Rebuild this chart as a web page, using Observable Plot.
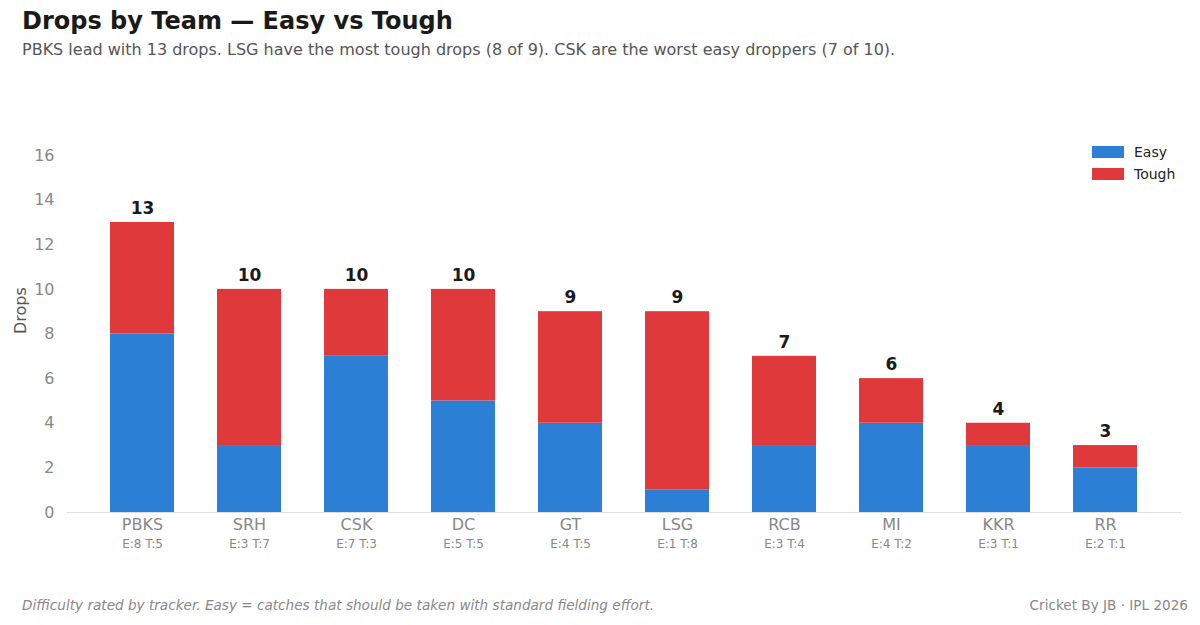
<!DOCTYPE html>
<html><head><meta charset="utf-8">
<script src="https://cdn.jsdelivr.net/npm/d3@7"></script>
<script src="https://cdn.jsdelivr.net/npm/@observablehq/plot@0.6"></script>
<style>
body{margin:0;width:1200px;height:625px;background:#fff;font-family:"DejaVu Sans",sans-serif;position:relative;overflow:hidden}
#t{position:absolute;left:22px;top:7px;font-size:24px;font-weight:bold;color:#1a1a1a}
#s{position:absolute;left:22px;top:40px;font-size:16px;color:#555}
#c{position:absolute;left:0;top:80px}
#f1{position:absolute;left:22px;top:597px;font-size:13.6px;font-style:italic;color:#888}
#f2{position:absolute;right:12px;top:597px;font-size:13.6px;color:#888}
#lg{position:absolute;left:1092px;top:141px;font-size:14px;color:#222;line-height:22px}
#lg span{display:inline-block;width:32px;height:12px;margin-right:10px;vertical-align:-1px}
</style></head><body>
<div id="t">Drops by Team — Easy vs Tough</div>
<div id="s">PBKS lead with 13 drops. LSG have the most tough drops (8 of 9). CSK are the worst easy droppers (7 of 10).</div>
<div id="c"></div>
<div id="lg"><div><span style="background:#2b7fd4"></span>Easy</div><div><span style="background:#e0393b"></span>Tough</div></div>
<div id="f1">Difficulty rated by tracker. Easy = catches that should be taken with standard fielding effort.</div>
<div id="f2">Cricket By JB · IPL 2026</div>
<script>
const teams=["PBKS","SRH","CSK","DC","GT","LSG","RCB","MI","KKR","RR"];
const easy=[8,3,7,5,4,1,3,4,3,2];
const tough=[5,7,3,5,5,8,4,2,1,1];
const yTicks=[0,2,4,6,8,10,12,14,16];
const rows=[];
teams.forEach((t,i)=>{rows.push({team:t,type:"Easy",v:easy[i]});rows.push({team:t,type:"Tough",v:tough[i]});});
const totals=teams.map((t,i)=>({team:t,total:easy[i]+tough[i],sub:`E:${easy[i]} T:${tough[i]}`}));
const p=Plot.plot({
 width:1200,height:480,marginTop:75,marginBottom:48,marginLeft:67,marginRight:19,
 style:{fontFamily:"DejaVu Sans",background:"transparent"},
 x:{domain:teams,padding:0.4,label:null},
 y:{domain:[0,16],ticks:yTicks,label:null},
 color:{domain:["Easy","Tough"],range:["#2b7fd4","#e0393b"]},
 marks:[
  Plot.ruleY([0],{stroke:"#ddd"}),
  Plot.barY(rows,Plot.stackY({x:"team",y:"v",fill:"type",order:["Easy","Tough"]})),
  Plot.axisY({ticks:yTicks,tickSize:0,tickPadding:13,fontSize:16,color:"#888"}),
  Plot.axisX({tickSize:0,tickPadding:6,fontSize:16,color:"#888"}),
  Plot.text(totals,{x:"team",y:0,text:"sub",dy:32,fontSize:12,fill:"#888"}),
  Plot.text(totals,{x:"team",y:"total",text:d=>String(d.total),dy:-14,fontSize:17,fontWeight:"bold",fill:"#1a1a1a"}),
  Plot.text(["Drops"],{frameAnchor:"left",dx:-47,rotate:-90,fontSize:16,fill:"#555",dy:0})
 ]});
document.getElementById("c").appendChild(p);
</script></body></html>
